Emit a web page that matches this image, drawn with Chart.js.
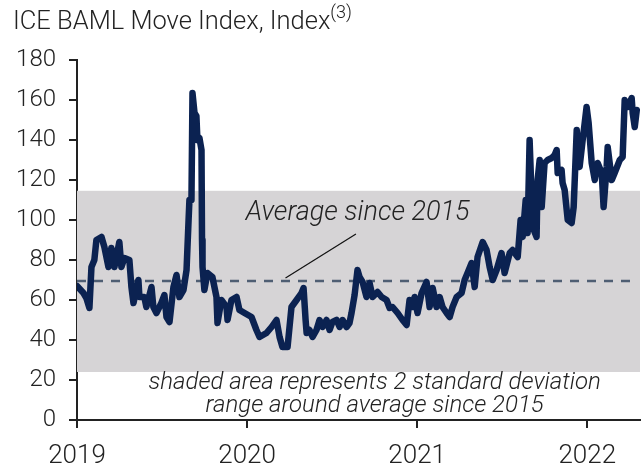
<!DOCTYPE html>
<html>
<head>
<meta charset="utf-8">
<script src="https://cdn.jsdelivr.net/npm/chart.js@4.4.1/dist/chart.umd.min.js"></script>
<style>
  body { margin: 0; background: #fff; }
  #wrap { position: relative; width: 644px; height: 466px; }
  #title {
    position: absolute; left: 13px; top: 4px;
    font-family: Roboto, sans-serif; font-weight: 300; font-size: 25.5px;
    color: #222; line-height: 1; white-space: nowrap;
  }
  #title sup { font-size: 18px; position: relative; top: -1px; }
</style>
</head>
<body>
<div id="wrap">
  <canvas id="chart" width="644" height="466"></canvas>
  <div id="title">ICE BAML Move Index, Index<sup>(3)</sup></div>
</div>
<script>
// dates as decimal years
const years = [
  2019.000, 2019.038, 2019.055, 2019.073, 2019.085, 2019.102, 2019.114, 2019.144, 2019.161, 2019.185,
  2019.202, 2019.220, 2019.249, 2019.261, 2019.279, 2019.308, 2019.320, 2019.332, 2019.361, 2019.367,
  2019.396, 2019.408, 2019.438, 2019.449, 2019.467, 2019.496, 2019.514, 2019.526, 2019.544, 2019.567,
  2019.585, 2019.602, 2019.626, 2019.644, 2019.656, 2019.661, 2019.673, 2019.679, 2019.691, 2019.702,
  2019.708, 2019.720, 2019.732, 2019.735, 2019.738, 2019.749, 2019.767, 2019.796, 2019.820, 2019.826,
  2019.849, 2019.879, 2019.885, 2019.908, 2019.938, 2019.955, 2019.985, 2020.026, 2020.055, 2020.073,
  2020.114, 2020.144, 2020.173, 2020.191, 2020.208, 2020.238, 2020.261, 2020.291, 2020.320, 2020.332,
  2020.344, 2020.350, 2020.367, 2020.385, 2020.408, 2020.426, 2020.444, 2020.467, 2020.485, 2020.502,
  2020.526, 2020.544, 2020.561, 2020.585, 2020.602, 2020.614, 2020.632, 2020.649, 2020.661, 2020.679,
  2020.702, 2020.720, 2020.738, 2020.767, 2020.791, 2020.820, 2020.838, 2020.855, 2020.885, 2020.914,
  2020.938, 2020.955, 2020.973, 2020.985, 2021.002, 2021.026, 2021.055, 2021.073, 2021.091, 2021.114,
  2021.132, 2021.149, 2021.173, 2021.191, 2021.208, 2021.232, 2021.261, 2021.279, 2021.296, 2021.320,
  2021.338, 2021.355, 2021.385, 2021.408, 2021.426, 2021.444, 2021.467, 2021.496, 2021.514, 2021.544,
  2021.561, 2021.591, 2021.608, 2021.620, 2021.638, 2021.649, 2021.661, 2021.679, 2021.702, 2021.708,
  2021.720, 2021.732, 2021.749, 2021.767, 2021.791, 2021.808, 2021.820, 2021.826, 2021.849, 2021.855,
  2021.867, 2021.885, 2021.908, 2021.920, 2021.938, 2021.955, 2021.973, 2021.996, 2022.008, 2022.026,
  2022.044, 2022.061, 2022.085, 2022.096, 2022.114, 2022.120, 2022.144, 2022.161, 2022.191, 2022.208,
  2022.220, 2022.238, 2022.261, 2022.267, 2022.279, 2022.291
]
const moveIndex = [
  67, 63.5, 61, 56, 76.5, 80, 90, 91.5, 86.5, 76.5,
  86, 76.5, 89, 76.5, 81, 80, 66.5, 58.5, 70, 61.5,
  61.5, 56.5, 66.5, 56.5, 53.5, 58.5, 62.5, 51.5, 49, 66.5,
  72.5, 61.5, 65, 75, 100, 110, 110, 163.5, 153.5, 152,
  140, 141, 135, 90, 76.5, 65, 73.5, 71.5, 61.5, 48.5,
  60, 56.5, 50, 60, 61.5, 55, 53.5, 51.5, 45, 41.5,
  43.5, 46.5, 50, 41.5, 36.5, 36.5, 56.5, 60, 63.5, 66,
  50, 43.5, 45, 41.5, 45, 50, 46.5, 50, 45, 49,
  50, 46.5, 50, 46.5, 48.5, 53.5, 62.5, 75, 71.5, 69,
  61.5, 68.5, 61.5, 64, 61.5, 60, 56, 56.5, 53.5, 50,
  47.5, 60, 56.5, 61.5, 53.5, 63.5, 69, 56.5, 66, 56.5,
  61.5, 56.5, 53.5, 51.5, 56.5, 61.5, 63.5, 70, 73.5, 78.5,
  66.5, 81.5, 89, 85, 76.5, 70, 75, 83.5, 73.5, 83.5,
  85, 81.5, 100, 91.5, 110, 93.5, 140, 96.5, 91.5, 120,
  130, 106.5, 128.5, 130, 131, 132.5, 135, 123.5, 125, 118.5,
  115, 100, 98.5, 106.5, 145, 126.5, 140, 156.5, 148.5, 128.5,
  120, 128.5, 123.5, 106.5, 126.5, 136.5, 120, 123.5, 130, 131.5,
  160, 156.5, 161, 153.5, 146.5, 155
]
const xTicks = [2019, 2020, 2021, 2022]
const yTicks = [0, 20, 40, 60, 80, 100, 120, 140, 160, 180]
const average = 69.5
const bandLow = 24
const bandHigh = 114.6
const xMin = 2019
const xMax = 2022.31

const averageLabel = 'Average since 2015'
const noteLines = ['shaded area represents 2 standard deviation', 'range around average since 2015']

const navy = '#0b2251'
const inkColor = '#222'

// shaded band behind the series, labels and leader line on top
const annotations = {
  id: 'annotations',
  beforeDatasetsDraw(chart) {
    const { ctx, chartArea, scales: { x, y } } = chart
    ctx.save()
    ctx.fillStyle = '#d6d4d6'
    const top = y.getPixelForValue(bandHigh)
    const bottom = y.getPixelForValue(bandLow)
    ctx.fillRect(chartArea.left, top, chartArea.right - chartArea.left, bottom - top)
    ctx.restore()
  },
  afterDatasetsDraw(chart) {
    const { ctx, scales: { x, y } } = chart
    ctx.save()
    ctx.strokeStyle = '#111'
    ctx.lineWidth = 1.2
    ctx.beginPath()
    ctx.moveTo(x.getPixelForValue(2020.64), y.getPixelForValue(93))
    ctx.lineTo(x.getPixelForValue(2020.226), y.getPixelForValue(71))
    ctx.stroke()

    ctx.fillStyle = inkColor
    ctx.textAlign = 'center'
    ctx.textBaseline = 'middle'
    ctx.font = 'italic 300 27px Roboto'
    ctx.fillText(averageLabel, x.getPixelForValue(2020.65), y.getPixelForValue(103.5))
    ctx.font = 'italic 300 24px Roboto'
    ctx.fillText(noteLines[0], x.getPixelForValue(2020.75), y.getPixelForValue(18.5))
    ctx.fillText(noteLines[1], x.getPixelForValue(2020.75), y.getPixelForValue(7))
    ctx.restore()
  }
}

const ctx = document.querySelector('#chart').getContext('2d')
const chart = new Chart(ctx, {
  type: 'line',
  data: {
    datasets: [
      {
        label: 'MOVE',
        data: years.map((yr, i) => ({ x: yr, y: moveIndex[i] })),
        borderColor: navy,
        borderWidth: 6.5,
        pointRadius: 0,
        tension: 0,
        borderJoinStyle: 'round',
        borderCapStyle: 'round',
        order: 1
      },
      {
        label: 'Average',
        data: [{ x: xMin, y: average }, { x: 2022.28, y: average }],
        borderColor: '#4f5e73',
        borderWidth: 2.5,
        borderDash: [9, 8],
        pointRadius: 0,
        order: 2
      }
    ]
  },
  options: {
    responsive: false,
    animation: false,
    layout: { padding: { top: 60, right: 4, left: 0, bottom: 0 } },
    plugins: {
      legend: { display: false },
      tooltip: { enabled: false }
    },
    scales: {
      x: {
        type: 'linear',
        min: xMin,
        max: xMax,
        afterBuildTicks: (scale) => { scale.ticks = xTicks.map(v => ({ value: v })) },
        afterFit: (scale) => { scale.height = 46 },
        grid: { drawOnChartArea: false, tickLength: 8, color: inkColor, lineWidth: 2 },
        border: { color: inkColor, width: 2 },
        ticks: {
          color: inkColor,
          font: { family: 'Roboto', weight: 300, size: 26 },
          padding: 13,
          maxRotation: 0,
          callback: (v) => String(v)
        }
      },
      y: {
        min: 0,
        max: 180,
        afterBuildTicks: (scale) => { scale.ticks = yTicks.map(v => ({ value: v })) },
        afterFit: (scale) => { scale.width = 77 },
        grid: { drawOnChartArea: false, tickLength: 8, color: inkColor, lineWidth: 2 },
        border: { color: inkColor, width: 2 },
        ticks: {
          color: inkColor,
          font: { family: 'Roboto', weight: 300, size: 24 },
          padding: 13,
          callback: (v) => String(v)
        }
      }
    }
  },
  plugins: [annotations]
})
</script>
</body>
</html>
